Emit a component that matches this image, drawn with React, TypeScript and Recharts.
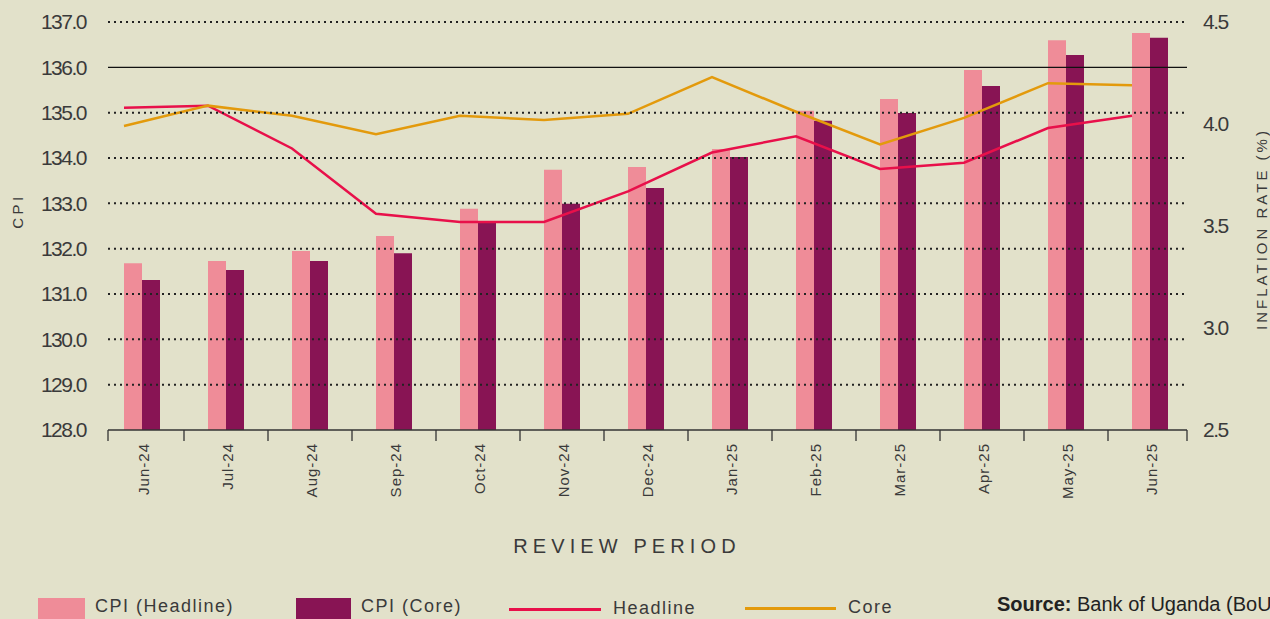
import React from "react";
import {
  ComposedChart,
  Bar,
  Line,
  XAxis,
  YAxis,
  ReferenceLine,
} from "recharts";

const months = [
  "Jun-24", "Jul-24", "Aug-24", "Sep-24", "Oct-24", "Nov-24", "Dec-24",
  "Jan-25", "Feb-25", "Mar-25", "Apr-25", "May-25", "Jun-25",
];
const cpiHeadline = [131.68, 131.73, 131.95, 132.28, 132.88, 133.74, 133.8, 134.2, 135.04, 135.3, 135.94, 136.6, 136.76];
const cpiCore = [131.31, 131.53, 131.73, 131.9, 132.59, 132.99, 133.34, 134.02, 134.82, 134.99, 135.59, 136.27, 136.65];
const headlineRate = [4.08, 4.09, 3.88, 3.56, 3.52, 3.52, 3.67, 3.86, 3.94, 3.78, 3.81, 3.98, 4.04];
const coreRate = [3.99, 4.09, 4.04, 3.95, 4.04, 4.02, 4.05, 4.23, 4.06, 3.9, 4.03, 4.2, 4.19];

const cpiTicks = [128, 129, 130, 131, 132, 133, 134, 135, 136, 137];
const rateTicks = [2.5, 3.0, 3.5, 4.0, 4.5];
const solidTick = 136;

const chartData = months.map((m, i) => ({
  month: m,
  cpiHeadline: cpiHeadline[i],
  cpiCore: cpiCore[i],
  headline: headlineRate[i],
  core: coreRate[i],
}));

const BG = "#e2e1ca";
const PINK = "#ef8c98";
const PURPLE = "#881454";
const RED = "#e8104a";
const ORANGE = "#e39a0c";
const TEXT = "#3a3a3a";
const FONT = "'Liberation Sans', Arial, sans-serif";

const PLOT_LEFT = 108;
const PLOT_RIGHT = 1187;
const BAND = 84;

function MonthTick(props: any) {
  const { x, y, payload, index } = props;
  const n = months.length;
  const left = Math.max(x - BAND / 2, PLOT_LEFT);
  const right = Math.min(x + BAND / 2, PLOT_RIGHT);
  return (
    <g>
      <line x1={left} x2={left} y1={y} y2={y + 11} stroke="#333" strokeWidth={1.3} />
      {index === n - 1 && (
        <line x1={right} x2={right} y1={y} y2={y + 11} stroke="#333" strokeWidth={1.3} />
      )}
      <text
        x={x + 2}
        y={y + 13}
        dy="0.35em"
        transform={`rotate(-90, ${x + 2}, ${y + 13})`}
        textAnchor="end"
        fontSize={15}
        letterSpacing={1}
        fill={TEXT}
        fontFamily={FONT}
      >
        {payload.value}
      </text>
    </g>
  );
}

const legendText: React.CSSProperties = {
  position: "absolute",
  top: 596,
  fontSize: 18,
  letterSpacing: 1.5,
  color: TEXT,
  fontFamily: FONT,
  whiteSpace: "nowrap",
};

const axisTitle: React.CSSProperties = {
  position: "absolute",
  transform: "translate(-50%, -50%) rotate(-90deg)",
  fontSize: 15,
  letterSpacing: 3,
  color: TEXT,
  whiteSpace: "nowrap",
};

export default function App() {
  return (
    <div
      style={{
        position: "fixed",
        left: 0,
        top: 0,
        width: 1270,
        height: 619,
        background: BG,
        overflow: "hidden",
        fontFamily: FONT,
      }}
    >
      <ComposedChart
        width={1270}
        height={619}
        data={chartData}
        margin={{ top: 22, right: 0, bottom: 0, left: 28 }}
        barGap={0}
        barSize={18}
      >
        <XAxis
          dataKey="month"
          xAxisId="bars"
          padding={{ left: -8, right: -5 }}
          axisLine={{ stroke: "#333", strokeWidth: 1.5 }}
          tickLine={false}
          tickSize={0}
          tickMargin={0}
          interval={0}
          tick={<MonthTick />}
          height={189}
        />
        <XAxis
          dataKey="month"
          xAxisId="lines"
          padding={{ left: -26, right: 13 }}
          hide
        />
        <YAxis
          yAxisId="cpi"
          domain={[128, 137]}
          ticks={cpiTicks}
          interval={0}
          tickFormatter={(v) => Number(v).toFixed(1)}
          axisLine={false}
          tickLine={false}
          tickSize={0}
          tickMargin={22}
          width={80}
          tick={{ fontSize: 21, fill: TEXT, fontFamily: FONT, letterSpacing: -1.5 }}
        />
        <YAxis
          yAxisId="rate"
          orientation="right"
          domain={[2.5, 4.5]}
          ticks={rateTicks}
          interval={0}
          tickFormatter={(v) => Number(v).toFixed(1)}
          axisLine={false}
          tickLine={false}
          tickSize={0}
          tickMargin={16}
          width={83}
          tick={{ fontSize: 21, fill: TEXT, fontFamily: FONT, letterSpacing: -1.5, textAnchor: "start" }}
        />
        <Line
          xAxisId="lines"
          yAxisId="rate"
          dataKey="headline"
          stroke={RED}
          strokeWidth={2.5}
          dot={false}
          isAnimationActive={false}
        />
        <Line
          xAxisId="lines"
          yAxisId="rate"
          dataKey="core"
          stroke={ORANGE}
          strokeWidth={2.5}
          dot={false}
          isAnimationActive={false}
        />
        <Bar xAxisId="bars" yAxisId="cpi" dataKey="cpiHeadline" fill={PINK} isAnimationActive={false} />
        <Bar xAxisId="bars" yAxisId="cpi" dataKey="cpiCore" fill={PURPLE} isAnimationActive={false} />
        {cpiTicks
          .filter((t) => t !== 128 && t !== solidTick)
          .map((t) => (
            <ReferenceLine
              key={t}
              xAxisId="bars"
              yAxisId="cpi"
              y={t}
              stroke="#222"
              strokeWidth={2}
              strokeDasharray="2 4"
            />
          ))}
        <ReferenceLine xAxisId="bars" yAxisId="cpi" y={solidTick} stroke="#111" strokeWidth={1.3} />
      </ComposedChart>

      <div style={{ ...axisTitle, left: 17, top: 211, letterSpacing: 3.5 }}>CPI</div>
      <div style={{ ...axisTitle, left: 1261, top: 229 }}>INFLATION RATE (%)</div>
      <div
        style={{
          position: "absolute",
          left: 627,
          top: 546,
          transform: "translate(-50%, -50%)",
          fontSize: 20,
          letterSpacing: 5.1,
          color: TEXT,
          whiteSpace: "nowrap",
        }}
      >
        REVIEW PERIOD
      </div>

      <div style={{ position: "absolute", left: 38, top: 598, width: 47, height: 24, background: PINK }} />
      <div style={{ ...legendText, left: 95 }}>CPI (Headline)</div>
      <div style={{ position: "absolute", left: 296, top: 598, width: 55, height: 24, background: PURPLE }} />
      <div style={{ ...legendText, left: 361 }}>CPI (Core)</div>
      <div style={{ position: "absolute", left: 509, top: 608, width: 92, height: 3, background: RED }} />
      <div style={{ ...legendText, left: 613, top: 598 }}>Headline</div>
      <div style={{ position: "absolute", left: 745, top: 607, width: 91, height: 3, background: ORANGE }} />
      <div style={{ ...legendText, left: 848, top: 597 }}>Core</div>
      <div style={{ ...legendText, left: 997, top: 593, fontSize: 20, letterSpacing: 0, color: "#222" }}>
        <b>Source:</b> Bank of Uganda (BoU)
      </div>
    </div>
  );
}
